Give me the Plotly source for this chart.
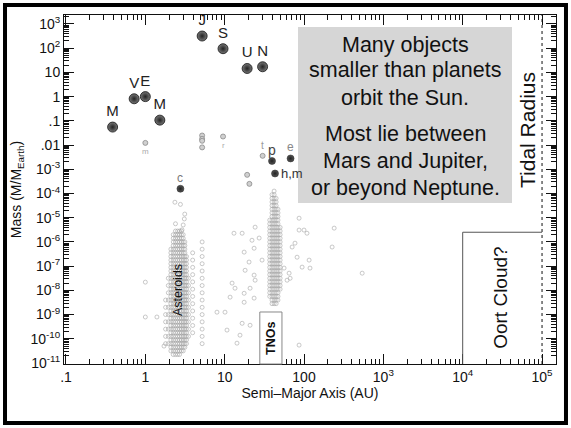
import math
import plotly.graph_objects as go

# ---------------- data ----------------
planet_labels = ["M", "V", "E", "M", "J", "S", "U", "N"]
planet_a = [0.387, 0.723, 1.0, 1.524, 5.203, 9.537, 19.19, 30.07]
planet_mass = [0.0553, 0.815, 1.0, 0.107, 317.8, 95.2, 14.5, 17.1]

dwarf_labels = ["c", "p", "e", "h,m"]
dwarf_a = [2.77, 39.5, 67.7, 43.1]
dwarf_mass = [1.57e-4, 0.0022, 0.0028, 0.00067]

moon_a = [1.0, 5.2, 5.2, 5.2, 5.2, 9.54, 30.1, 19.2, 20.5]
moon_mass = [0.0123, 0.0248, 0.018, 0.015, 0.008, 0.0225, 0.00359, 0.00059, 0.00025]

# lattice levels (log10 mass) of the binned small-body populations
lattice_logm = [-3.9, -4.05, -4.2, -4.35, -4.5, -4.65, -4.8, -4.95, -5.1, -5.25,
                -5.4, -5.55, -5.7, -5.85, -6.0, -6.15, -6.3, -6.45, -6.6, -6.75,
                -6.9, -7.05, -7.2, -7.35, -7.5, -7.65, -7.8, -7.95, -8.1, -8.25,
                -8.4, -8.55, -8.7, -8.85, -9.0, -9.15, -9.3, -9.45, -9.6, -9.75,
                -9.9, -10.05, -10.2, -10.35, -10.5, -10.65]

asteroid_cols_a = [1.8, 1.95, 2.1, 2.25, 2.4, 2.55, 2.7, 2.85, 3.0, 3.15, 3.3, 3.5, 3.95, 5.2]
asteroid_cols_top = [-8.4, -7.4, -6.3, -5.7, -5.5, -5.5, -5.5, -5.55, -5.7, -6.0, -6.6, -7.4, -6.4, -6.0]
asteroid_cols_bot = [-10.2, -10.4, -10.6, -10.65, -10.65, -10.65, -10.65, -10.6, -10.5, -10.4, -10.2, -9.9, -10.0, -10.2]
asteroid_cols_every = [2, 2, 1, 1, 1, 1, 1, 1, 1, 1, 1, 2, 2, 2]

tno_cols_a = [37.0, 39.5, 42.0, 44.5, 47.0, 50.0]
tno_cols_top = [-5.0, -4.0, -3.9, -4.2, -4.6, -5.4]
tno_cols_bot = [-8.3, -8.6, -8.6, -8.6, -8.4, -8.0]

scatter_a = [13.1, 16.6, 22.1, 27.2, 17.6, 23.5, 20.3, 29.6, 18.1, 23.5, 24.2, 12.4,
             13.5, 17.6, 20.9, 11.7, 17.6, 23.5, 8.0, 10.1, 16.6, 20.9, 10.7, 15.6,
             14.3, 24.2, 86.7, 109, 240, 226, 70.8, 81.8, 116, 94.6, 119, 64.9, 61.2,
             541, 86.7, 66.8, 56.1, 86.7, 100, 77, 1.0, 1.0, 1.4, 1.72, 2.36, 2.77,
             3.14, 3.1, 2.4, 3.0, 2.9]
scatter_logm = [-5.64, -5.64, -5.93, -5.84, -6.42, -6.26, -6.83, -6.75, -7.17, -7.37,
                -7.58, -7.70, -7.91, -8.12, -7.91, -8.28, -8.49, -8.32, -8.90, -8.90,
                -9.36, -9.44, -9.64, -9.85, -10.18, -5.39, -5.51, -5.64, -5.43, -6.21,
                -6.21, -6.63, -6.75, -7.04, -7.08, -7.29, -7.58, -7.29, -10.26, -7.50,
                -7.08, -5.02, -5.51, -6.05, -7.66, -9.1, -9.1, -10.3, -4.36, -4.45,
                -4.85, -5.05, -5.25, -5.3, -5.5]

x_tickvals = [0.1, 1, 10, 100, 1e3, 1e4, 1e5]
x_ticktext = [".1", "1", "10", "100", "10<sup>3</sup>", "10<sup>4</sup>", "10<sup>5</sup>"]
y_tickvals = [1e3, 1e2, 10, 1, 0.1, 0.01, 1e-3, 1e-4, 1e-5, 1e-6, 1e-7, 1e-8, 1e-9, 1e-10, 1e-11]
y_ticktext = ["10<sup>3</sup>", "10<sup>2</sup>", "10", "1", ".1", ".01", "10<sup>-3</sup>",
              "10<sup>-4</sup>", "10<sup>-5</sup>", "10<sup>-6</sup>", "10<sup>-7</sup>",
              "10<sup>-8</sup>", "10<sup>-9</sup>", "10<sup>-10</sup>", "10<sup>-11</sup>"]

# ---------------- helpers ----------------
XR = [-1.025, 5.176]
YR = [-11.04, 3.37]
FONT = "Liberation Sans, Arial, sans-serif"


def px(v):
    return (math.log10(v) - XR[0]) / (XR[1] - XR[0])


def py(v):
    return (math.log10(v) - YR[0]) / (YR[1] - YR[0])


def lattice(cols_a, tops, bots, every=None):
    xs, ys = [], []
    for i, a in enumerate(cols_a):
        step = every[i] if every else 1
        rows = [m for m in lattice_logm if bots[i] - 1e-9 <= m <= tops[i] + 1e-9]
        for m in rows[::step]:
            xs.append(a)
            ys.append(10 ** m)
    return xs, ys


fig = go.Figure()

ax, ay = lattice(asteroid_cols_a, asteroid_cols_top, asteroid_cols_bot, asteroid_cols_every)
tx, ty = lattice(tno_cols_a, tno_cols_top, tno_cols_bot)
small_style = dict(symbol="circle-open", size=4, color="#a4a4a4", line=dict(width=0.6, color="#a4a4a4"))
fig.add_trace(go.Scatter(x=ax, y=ay, mode="markers", marker=small_style, hoverinfo="skip"))
fig.add_trace(go.Scatter(x=tx, y=ty, mode="markers", marker=small_style, hoverinfo="skip"))
fig.add_trace(go.Scatter(x=scatter_a, y=[10 ** m for m in scatter_logm], mode="markers",
                         marker=small_style, hoverinfo="skip"))

# moons
fig.add_trace(go.Scatter(x=moon_a, y=moon_mass, mode="markers",
                         marker=dict(size=5, color="#d0d0d0", line=dict(width=0.8, color="#8a8a8a"))))

# dwarf planets
fig.add_trace(go.Scatter(x=dwarf_a, y=dwarf_mass, mode="markers",
                         marker=dict(size=7, color="#555", gradient=dict(type="radial", color="#222"),
                                     line=dict(width=0.5, color="#222"))))

# planets
fig.add_trace(go.Scatter(x=planet_a, y=planet_mass, mode="markers+text",
                         text=planet_labels, textposition="top center",
                         textfont=dict(size=15, color="#222", family=FONT),
                         marker=dict(size=10, color="#777", gradient=dict(type="radial", color="#222"),
                                     line=dict(width=0.8, color="#111"))))

annotations = []
# dwarf planet labels
annotations.append(dict(x=px(2.77), y=py(1.57e-4), yshift=11, text="c", font=dict(size=12, color="#777")))
annotations.append(dict(x=px(39.5), y=py(0.0022), yshift=11, text="p", font=dict(size=14, color="#444")))
annotations.append(dict(x=px(67.7), y=py(0.0028), yshift=11, text="e", font=dict(size=12, color="#888")))
annotations.append(dict(x=px(43.1), y=py(0.00067), xshift=4, text="h,m", xanchor="left",
                        font=dict(size=13, color="#333")))
annotations.append(dict(x=px(30.1), y=py(0.00359), yshift=10, text="t", font=dict(size=10, color="#999")))
annotations.append(dict(x=px(1.0), y=py(0.0123), yshift=-9, text="m", font=dict(size=8, color="#aaa")))
annotations.append(dict(x=px(9.54), y=py(0.0225), yshift=-9, text="r", font=dict(size=8, color="#aaa")))

# text box
box_lines = [("Many objects", 0.914), ("smaller than planets", 0.842), ("orbit the Sun.", 0.762),
             ("Most lie between", 0.659), ("Mars and Jupiter,", 0.582), ("or beyond Neptune.", 0.504)]
for t, yy in box_lines:
    annotations.append(dict(x=0.6931, y=yy, text=t, font=dict(size=21.5, color="#111")))

annotations.append(dict(x=px(1e5) - 0.031, y=0.67, text="Tidal Radius", textangle=-90,
                        font=dict(size=21, color="#111")))
annotations.append(dict(x=0.8857, y=0.189, text="Oort Cloud?", textangle=-90,
                        font=dict(size=19, color="#111")))
annotations.append(dict(x=0.2317, y=0.212, text="Asteroids", textangle=-90,
                        font=dict(size=12.5, color="#111")))
annotations.append(dict(x=0.4207, y=0.0745, text="<b>TNOs</b>", textangle=-90,
                        font=dict(size=12.5, color="#111")))
for a in annotations:
    a.setdefault("xref", "paper")
    a.setdefault("yref", "paper")
    a.setdefault("showarrow", False)
    a.setdefault("xanchor", "center")
    a.setdefault("yanchor", "middle")
    a["font"].setdefault("family", FONT)

shapes = [
    dict(type="rect", xref="paper", yref="paper", x0=0.4756, x1=0.9106, y0=0.4613, y1=0.9656,
         fillcolor="#d6d6d6", line=dict(width=0), layer="below"),
    dict(type="line", xref="paper", yref="paper", x0=px(1e5), x1=px(1e5), y0=0, y1=1,
         line=dict(color="#111", width=1, dash="dot")),
    dict(type="line", xref="paper", yref="paper", x0=px(1e4), x1=px(1e4), y0=0, y1=py(10 ** -5.6),
         line=dict(color="#555", width=1)),
    dict(type="line", xref="paper", yref="paper", x0=px(1e4), x1=px(1e5), y0=py(10 ** -5.6), y1=py(10 ** -5.6),
         line=dict(color="#555", width=1)),
    dict(type="rect", xref="paper", yref="paper", x0=0.398, x1=0.443, y0=0.0, y1=0.149,
         fillcolor="white", line=dict(color="#888", width=1)),
    dict(type="rect", xref="paper", yref="paper", x0=-0.1199, x1=1.0203, y0=-0.1691, y1=1.0287,
         line=dict(color="black", width=4)),
]

minor_x = [m * 10 ** e for e in range(-1, 6) for m in range(2, 10)]
minor_y = [m * 10 ** e for e in range(-11, 4) for m in range(2, 10)]

fig.update_layout(
    width=571, height=428,
    margin=dict(l=64, r=15, t=15, b=64, autoexpand=False),
    paper_bgcolor="white", plot_bgcolor="white",
    showlegend=False,
    font=dict(family=FONT, color="#111"),
    annotations=annotations,
    shapes=shapes,
    xaxis=dict(type="log", range=XR, tickmode="array", tickvals=x_tickvals, ticktext=x_ticktext,
               ticks="inside", ticklen=10, tickcolor="#111", showline=True, linecolor="#111",
               mirror="allticks", showgrid=False, zeroline=False, automargin=False,
               tickfont=dict(size=14), title=dict(text="Semi–Major Axis (AU)", font=dict(size=14), standoff=4),
               minor=dict(tickmode="array", tickvals=minor_x, ticks="inside", ticklen=5, tickcolor="#111",
                          showgrid=False)),
    yaxis=dict(type="log", range=YR, tickmode="array", tickvals=y_tickvals, ticktext=y_ticktext,
               ticks="inside", ticklen=10, tickcolor="#111", showline=True, linecolor="#111",
               mirror="allticks", showgrid=False, zeroline=False, automargin=False,
               tickfont=dict(size=14), title=dict(text="Mass (M/M<sub>Earth</sub>)", font=dict(size=14), standoff=5),
               minor=dict(tickmode="array", tickvals=minor_y, ticks="inside", ticklen=5, tickcolor="#111",
                          showgrid=False)),
)

fig.write_html("out.html", config={"displayModeBar": False},
               post_script="document.body.style.margin='0';")
